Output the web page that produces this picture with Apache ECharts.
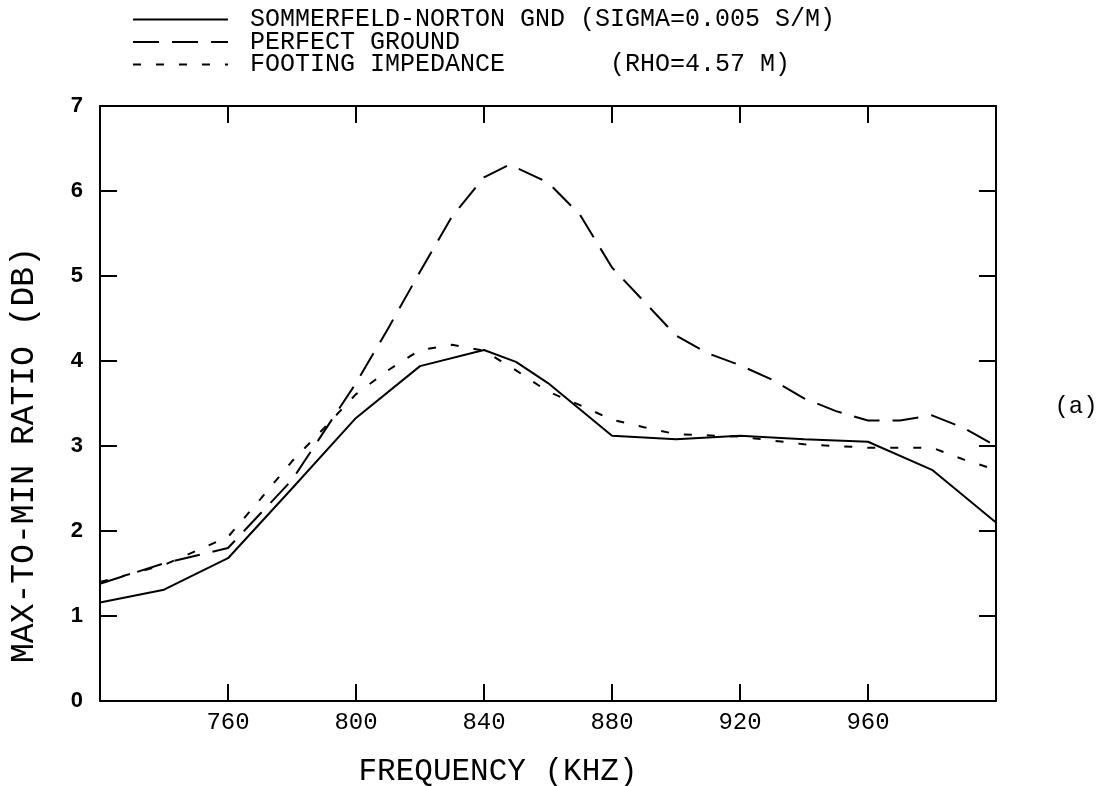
<!DOCTYPE html>
<html>
<head>
<meta charset="utf-8">
<script src="https://cdn.jsdelivr.net/npm/echarts@6/dist/echarts.min.js"></script>
<style>html,body{margin:0;padding:0;background:#fff}#c{width:1113px;height:786px}</style>
</head>
<body>
<div id="c"></div>
<script>
// Series names
const seriesNames = [
  'SOMMERFELD-NORTON GND (SIGMA=0.005 S/M)',
  'PERFECT GROUND',
  'FOOTING IMPEDANCE       (RHO=4.57 M)'
];
// [frequency kHz, ratio dB]
const sommerfeldNorton = [
  [720,1.16],[740,1.31],[760,1.68],[780,2.5],[800,3.33],[820,3.94],[840,4.13],[850,3.99],
  [860,3.74],[880,3.12],[900,3.08],[920,3.12],[940,3.08],[960,3.05],[980,2.72],[1000,2.1]
];
const perfectGround = [
  [720,1.38],[740,1.62],[760,1.8],[780,2.6],[800,3.74],[810,4.38],[820,5.05],[830,5.7],
  [840,6.16],[848,6.31],[860,6.1],[870,5.72],[880,5.1],[890,4.7],[900,4.3],[910,4.09],
  [920,3.95],[930,3.78],[940,3.56],[950,3.41],[960,3.3],[970,3.3],[980,3.36],[990,3.21],[1000,3.0]
];
const footingImpedance = [
  [720,1.40],[740,1.60],[760,1.93],[770,2.37],[780,2.82],[790,3.21],[800,3.61],[810,3.89],
  [820,4.13],[830,4.19],[840,4.12],[850,3.89],[860,3.64],[870,3.48],[880,3.31],[890,3.22],
  [900,3.14],[920,3.11],[940,3.02],[960,2.98],[980,2.98],[990,2.84],[1000,2.72]
];
const xTitle = 'FREQUENCY (KHZ)';
const yTitle = 'MAX-TO-MIN RATIO (DB)';
const panelLabel = '(a)';

const mono = 'Liberation Mono';
const axisLine = {show:true, onZero:false, lineStyle:{color:'#000', width:2}};
const tickIn = {show:true, inside:true, length:17, lineStyle:{color:'#000', width:2}};

const chart = echarts.init(document.getElementById('c'), null, {renderer:'canvas'});
chart.setOption({
  animation:false,
  backgroundColor:'#fff',
  grid:{left:100, right:117, top:106, bottom:85},
  legend:{
    orient:'vertical', left:127, top:2,
    itemWidth:95, itemHeight:14, itemGap:-2.5,
    itemStyle:{opacity:0},
    textStyle:{fontFamily:mono, fontSize:25, color:'#000', padding:[0,0,0,17]},
    data:seriesNames
  },
  xAxis:[
    {type:'value', position:'bottom', min:720, max:1000, interval:40,
     axisLine:axisLine, axisTick:tickIn, splitLine:{show:false},
     axisLabel:{showMinLabel:false, showMaxLabel:false, margin:10, fontFamily:mono, fontSize:24, color:'#000'}},
    {type:'value', position:'top', min:720, max:1000, interval:40,
     axisLine:axisLine, axisTick:tickIn, splitLine:{show:false}, axisLabel:{show:false}}
  ],
  yAxis:[
    {type:'value', position:'left', min:0, max:7, interval:1,
     axisLine:axisLine, axisTick:tickIn, splitLine:{show:false},
     axisLabel:{margin:17, fontFamily:'Liberation Sans', fontWeight:'bold', fontSize:22, color:'#000'}},
    {type:'value', position:'right', min:0, max:7, interval:1,
     axisLine:axisLine, axisTick:tickIn, splitLine:{show:false}, axisLabel:{show:false}}
  ],
  series:[
    {name:seriesNames[0], type:'line', data:sommerfeldNorton, showSymbol:false, symbol:'none',
     lineStyle:{color:'#000', width:2, type:'solid'}, itemStyle:{color:'#000'}},
    {name:seriesNames[1], type:'line', data:perfectGround, showSymbol:false, symbol:'none',
     lineStyle:{color:'#000', width:2, type:[26,13]}, itemStyle:{color:'#000'}},
    {name:seriesNames[2], type:'line', data:footingImpedance, showSymbol:false, symbol:'none',
     lineStyle:{color:'#000', width:2, type:[8,15]}, itemStyle:{color:'#000'}}
  ],
  graphic:[
    {type:'text', x:498, y:772, style:{text:xTitle, fontFamily:mono, fontSize:31, fill:'#000', align:'center', verticalAlign:'middle'}},
    {type:'text', x:24, y:455, rotation:Math.PI/2, style:{text:yTitle, fontFamily:mono, fontSize:33, fill:'#000', align:'center', verticalAlign:'middle'}},
    {type:'text', x:1076, y:407, style:{text:panelLabel, fontFamily:mono, fontSize:24, fill:'#000', align:'center', verticalAlign:'middle'}}
  ]
});
</script>
</body>
</html>
